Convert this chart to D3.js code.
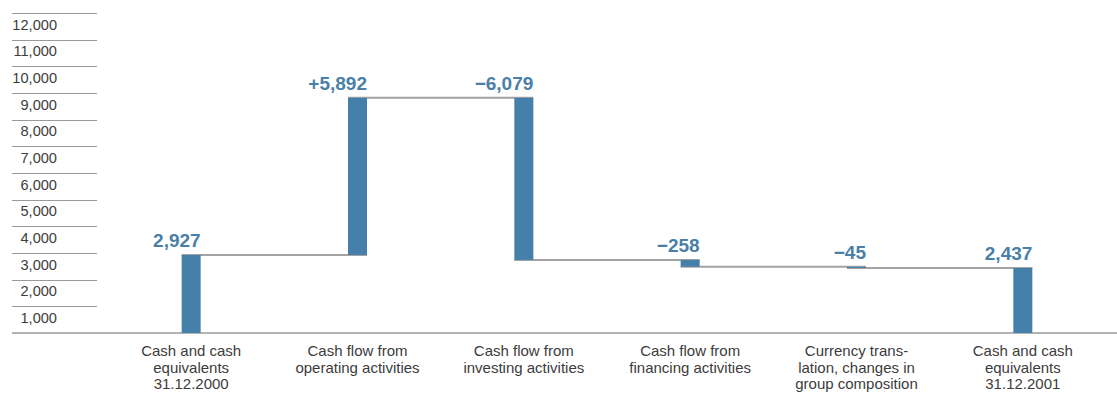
<!DOCTYPE html>
<html>
<head>
<meta charset="utf-8">
<script src="https://cdn.jsdelivr.net/npm/d3@7/dist/d3.min.js"></script>
<style>
  html, body { margin: 0; padding: 0; background: #fff; }
  svg { display: block; }
  text { font-family: "Liberation Sans", Arial, Helvetica, sans-serif; }
</style>
</head>
<body>
<svg id="chart" width="1117" height="401"></svg>
<script>
// Cash flow bridge, values in EUR million
const categories = [
  "Cash and cash equivalents 31.12.2000",
  "Cash flow from operating activities",
  "Cash flow from investing activities",
  "Cash flow from financing activities",
  "Currency translation, changes in group composition",
  "Cash and cash equivalents 31.12.2001"
];
const categoryLines = [
  ["Cash and cash", "equivalents", "31.12.2000"],
  ["Cash flow from", "operating activities"],
  ["Cash flow from", "investing activities"],
  ["Cash flow from", "financing activities"],
  ["Currency trans-", "lation, changes in", "group composition"],
  ["Cash and cash", "equivalents", "31.12.2001"]
];
const values = [2927, 5892, -6079, -258, -45, 2437];
const kinds = ["total", "delta", "delta", "delta", "delta", "total"];
const yTicks = [1000, 2000, 3000, 4000, 5000, 6000, 7000, 8000, 9000, 10000, 11000, 12000];

const barColor = "#4580aa";
const labelColor = "#4a7fa8";
const lineColor = "#a3a3a3";

// running totals -> bar extents
let running = 0;
const bars = categories.map((c, i) => {
  let y0, y1;
  if (kinds[i] === "total") {
    y0 = 0; y1 = values[i]; running = values[i];
  } else {
    y0 = running; y1 = running + values[i]; running = y1;
  }
  return { cat: c, lines: categoryLines[i], value: values[i], kind: kinds[i], y0, y1, level: running };
});

const svg = d3.select("#chart");

const y = d3.scaleLinear().domain([0, 12000]).range([333, 13]);
const x = d3.scaleBand().domain(categories).range([108, 1106]).padding(0);
const barW = 19;
const bx0 = d => x(d.cat) + x.bandwidth() / 2 - barW / 2;

// y grid ticks with labels below each line
const axisG = svg.append("g");
axisG.selectAll("line.tick")
  .data(yTicks)
  .join("line")
  .attr("class", "tick")
  .attr("x1", 12).attr("x2", 97)
  .attr("y1", d => Math.round(y(d)) + 0.5)
  .attr("y2", d => Math.round(y(d)) + 0.5)
  .attr("stroke", "#9a9a9a")
  .attr("stroke-width", 1);

const fmt = d3.format(",");
axisG.selectAll("text.tl")
  .data(yTicks)
  .join("text")
  .attr("class", "tl")
  .attr("x", 57)
  .attr("y", d => y(d) + 16.5)
  .attr("text-anchor", "end")
  .attr("font-size", 14.6)
  .attr("fill", "#3c3c3c")
  .text(d => fmt(d));

// connectors between bars at running level
const conn = svg.append("g");
conn.selectAll("line")
  .data(bars.slice(0, -1))
  .join("line")
  .attr("x1", d => bx0(d))
  .attr("x2", (d, i) => bx0(bars[i + 1]) + barW)
  .attr("y1", d => y(d.level))
  .attr("y2", d => y(d.level))
  .attr("stroke", lineColor)
  .attr("stroke-width", 2);

// baseline
svg.append("line")
  .attr("x1", 12).attr("x2", 1117)
  .attr("y1", y(0)).attr("y2", y(0))
  .attr("stroke", "#9a9a9a")
  .attr("stroke-width", 1.5);

// bars
svg.append("g").selectAll("rect")
  .data(bars)
  .join("rect")
  .attr("x", d => bx0(d))
  .attr("width", barW)
  .attr("y", d => y(Math.max(d.y0, d.y1)))
  .attr("height", d => Math.abs(y(d.y0) - y(d.y1)))
  .attr("fill", barColor);

// value labels
const valueText = d => {
  const s = fmt(Math.abs(d.value));
  if (d.kind === "total") return s;
  return (d.value > 0 ? "+" : "\u2212") + s;
};
svg.append("g").selectAll("text")
  .data(bars)
  .join("text")
  .attr("x", d => bx0(d) + barW)
  .attr("y", d => y(Math.max(d.y0, d.y1)) - 8)
  .attr("text-anchor", "end")
  .attr("font-size", 19)
  .attr("font-weight", "bold")
  .attr("fill", labelColor)
  .text(valueText);

// category labels
const catG = svg.append("g").selectAll("text")
  .data(bars)
  .join("text")
  .attr("x", d => x(d.cat) + x.bandwidth() / 2)
  .attr("y", 356)
  .attr("text-anchor", "middle")
  .attr("font-size", 15)
  .attr("fill", "#3c3c3c");
catG.selectAll("tspan")
  .data(d => d.lines.map(l => ({ l, cx: x(d.cat) + x.bandwidth() / 2 })))
  .join("tspan")
  .attr("x", d => d.cx)
  .attr("dy", (d, i) => i === 0 ? 0 : 16.5)
  .text(d => d.l);
</script>
</body>
</html>
